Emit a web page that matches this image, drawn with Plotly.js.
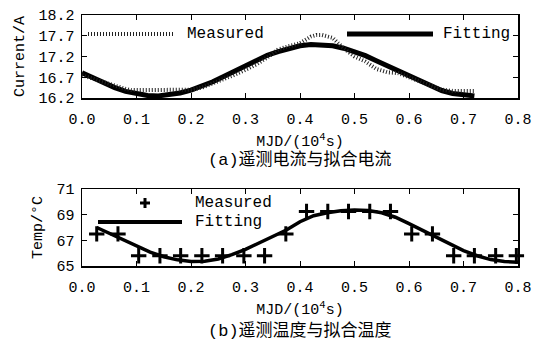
<!DOCTYPE html>
<html><head><meta charset="utf-8">
<script src="https://cdn.plot.ly/plotly-3.0.1.min.js"></script>
<style>html,body{margin:0;padding:0;background:#fff;}#chart{width:548px;height:345px;}</style>
</head><body><div id="chart"></div>
<script>
// ---- data ----
const xTickVals = [0, 0.1, 0.2, 0.3, 0.4, 0.5, 0.6, 0.7, 0.8];
const xTickLabels = ['0.0', '0.1', '0.2', '0.3', '0.4', '0.5', '0.6', '0.7', '0.8'];
const currentTickVals = [16.2, 16.7, 17.2, 17.7, 18.2];
const currentTickLabels = ['16.2', '16.7', '17.2', '17.7', '18.2'];
const tempTickVals = [65, 67, 69, 71];
const tempTickLabels = ['65', '67', '69', '71'];

// (a) telemetry current (measured) and fitted current
const currentMeasX = [0.00, 0.02, 0.04, 0.06, 0.08, 0.09, 0.10, 0.12, 0.14, 0.16, 0.18, 0.20, 0.22, 0.24, 0.26, 0.28, 0.30, 0.32, 0.34, 0.36, 0.38, 0.40, 0.42, 0.43, 0.44, 0.46, 0.47, 0.48, 0.50, 0.52, 0.54, 0.56, 0.58, 0.60, 0.62, 0.64, 0.66, 0.68, 0.70, 0.72];
const currentMeas  = [16.75, 16.66, 16.58, 16.50, 16.42, 16.39, 16.39, 16.39, 16.39, 16.39, 16.39, 16.40, 16.45, 16.55, 16.64, 16.76, 16.88, 17.01, 17.18, 17.37, 17.45, 17.52, 17.68, 17.72, 17.72, 17.65, 17.52, 17.40, 17.20, 17.08, 16.90, 16.82, 16.80, 16.70, 16.58, 16.48, 16.40, 16.37, 16.37, 16.37];
const currentFitX = [0.00, 0.02, 0.04, 0.06, 0.08, 0.10, 0.12, 0.14, 0.16, 0.18, 0.20, 0.22, 0.24, 0.26, 0.28, 0.30, 0.32, 0.34, 0.36, 0.38, 0.40, 0.42, 0.44, 0.46, 0.48, 0.50, 0.52, 0.54, 0.56, 0.58, 0.60, 0.62, 0.64, 0.66, 0.68, 0.70, 0.72];
const currentFit  = [16.81, 16.68, 16.56, 16.45, 16.36, 16.30, 16.26, 16.25, 16.27, 16.32, 16.39, 16.48, 16.59, 16.72, 16.85, 16.98, 17.11, 17.23, 17.32, 17.40, 17.46, 17.49, 17.49, 17.46, 17.40, 17.32, 17.22, 17.10, 16.98, 16.84, 16.71, 16.59, 16.48, 16.38, 16.31, 16.27, 16.25];

// (b) telemetry temperature (measured) and fitted temperature
const tempMeasX = [0.027, 0.066, 0.104, 0.143, 0.181, 0.220, 0.258, 0.297, 0.335, 0.374, 0.412, 0.451, 0.489, 0.528, 0.566, 0.605, 0.643, 0.682, 0.720, 0.759, 0.797];
const tempMeas  = [67.5, 67.5, 65.8, 65.8, 65.8, 65.8, 65.8, 65.8, 65.8, 67.5, 69.25, 69.25, 69.25, 69.25, 69.25, 67.5, 67.5, 65.8, 65.8, 65.8, 65.8];
const tempFitX = [0.027, 0.05, 0.075, 0.10, 0.125, 0.15, 0.175, 0.20, 0.225, 0.25, 0.275, 0.30, 0.325, 0.35, 0.375, 0.40, 0.425, 0.45, 0.475, 0.50, 0.525, 0.55, 0.575, 0.60, 0.625, 0.65, 0.675, 0.70, 0.725, 0.75, 0.775, 0.80];
const tempFit  = [68.00, 67.55, 67.05, 66.55, 66.08, 65.72, 65.48, 65.35, 65.37, 65.55, 65.88, 66.30, 66.78, 67.28, 67.80, 68.45, 68.92, 69.15, 69.30, 69.36, 69.32, 69.15, 68.80, 68.30, 67.78, 67.25, 66.70, 66.20, 65.80, 65.50, 65.35, 65.30];

const seriesNames = ['Measured', 'Fitting'];
const axisTitles = {x: 'MJD/(10<sup>4</sup>s)', current: 'Current/A', temp: 'Temp/°C'};
const captions = ['(a)遥测电流与拟合电流', '(b)遥测温度与拟合温度'];

// ---- styling ----
const LAT = 'Liberation Mono, DejaVu Sans Mono, monospace';
const CJK = 'Liberation Mono, Noto Sans CJK SC, monospace';
const BLACK = '#000';

const traces = [
  {x: currentFitX, y: currentFit, xaxis: 'x', yaxis: 'y', mode: 'lines', name: seriesNames[1],
   line: {color: BLACK, width: 5}},
  {x: currentMeasX, y: currentMeas, xaxis: 'x', yaxis: 'y', mode: 'lines', name: seriesNames[0],
   line: {color: '#222', width: 4, dash: '1px,2px'}},
  {x: tempFitX, y: tempFit, xaxis: 'x2', yaxis: 'y2', mode: 'lines', name: seriesNames[1],
   line: {color: BLACK, width: 3.5}},
  {x: tempMeasX, y: tempMeas, xaxis: 'x2', yaxis: 'y2', mode: 'markers', name: seriesNames[0],
   marker: {symbol: 'cross-thin', size: 11, color: BLACK, line: {color: BLACK, width: 3}}, cliponaxis: false}
];

function xAx(anchor, standoff) {
  return {domain: [0, 1], anchor: anchor, range: [0, 0.8], tickvals: xTickVals, ticktext: xTickLabels,
    ticks: 'inside', ticklen: 5, tickwidth: 1, tickcolor: BLACK, showline: true, linecolor: BLACK,
    linewidth: 1.5, mirror: 'ticks', showgrid: false, zeroline: false, ticklabelstandoff: 6,
    tickfont: {family: LAT, size: 15, color: BLACK},
    title: {text: axisTitles.x, standoff: standoff, font: {family: LAT, size: 15, color: BLACK}}};
}
function yAx(anchor, dom, rng, vals, labels, title) {
  return {domain: dom, anchor: anchor, range: rng, tickvals: vals, ticktext: labels,
    ticks: 'inside', ticklen: 5, tickwidth: 1, tickcolor: BLACK, showline: true, linecolor: BLACK,
    linewidth: 1.5, mirror: 'ticks', showgrid: false, zeroline: false, ticklabelstandoff: 3,
    tickfont: {family: LAT, size: 15, color: BLACK},
    title: {text: title, standoff: 10, font: {family: LAT, size: 15, color: BLACK}}};
}

// paper coords helpers for the hand-made legends (plot area: px 82..518, py 15..266)
const px = p => (p - 82) / 436;
const py = p => (266 - p) / 251;

const legendText = (x, y, t) => ({xref: 'paper', yref: 'paper', x: x, y: y, xanchor: 'left', yanchor: 'middle',
  text: t, showarrow: false, font: {family: LAT, size: 16, color: BLACK}});

const layout = {
  width: 548, height: 345, margin: {l: 82, r: 30, t: 15, b: 79},
  paper_bgcolor: '#fff', plot_bgcolor: '#fff', showlegend: false,
  font: {family: LAT, size: 15, color: BLACK},
  xaxis: xAx('y', 8),
  yaxis: yAx('x', [py(98), 1], [16.2, 18.2], currentTickVals, currentTickLabels, axisTitles.current),
  xaxis2: xAx('y2', 8),
  yaxis2: yAx('x2', [0, py(189)], [65, 71], tempTickVals, tempTickLabels, axisTitles.temp),
  shapes: [
    {type: 'line', xref: 'paper', yref: 'paper', x0: px(88), x1: px(175), y0: py(34), y1: py(34),
     line: {color: '#222', width: 4, dash: '1px,2px'}},
    {type: 'line', xref: 'paper', yref: 'paper', x0: px(347), x1: px(433), y0: py(34), y1: py(34),
     line: {color: BLACK, width: 5}},
    {type: 'line', xref: 'paper', yref: 'paper', x0: px(140), x1: px(150), y0: py(203), y1: py(203),
     line: {color: BLACK, width: 3}},
    {type: 'line', xref: 'paper', yref: 'paper', x0: px(145), x1: px(145), y0: py(198), y1: py(208),
     line: {color: BLACK, width: 3}},
    {type: 'line', xref: 'paper', yref: 'paper', x0: px(98), x1: px(182), y0: py(222), y1: py(222),
     line: {color: BLACK, width: 4}}
  ],
  annotations: [
    legendText(px(185), py(34), seriesNames[0]),
    legendText(px(441), py(34), seriesNames[1]),
    legendText(px(193), py(203), seriesNames[0]),
    legendText(px(193), py(222), seriesNames[1]),
    {xref: 'paper', yref: 'paper', x: px(300), y: py(160), xanchor: 'center', yanchor: 'middle',
     text: captions[0], showarrow: false, font: {family: CJK, size: 17, color: BLACK}},
    {xref: 'paper', yref: 'paper', x: px(300), y: py(331), xanchor: 'center', yanchor: 'middle',
     text: captions[1], showarrow: false, font: {family: CJK, size: 17, color: BLACK}}
  ]
};

Plotly.newPlot('chart', traces, layout, {staticPlot: true, displayModeBar: false});
</script></body></html>
